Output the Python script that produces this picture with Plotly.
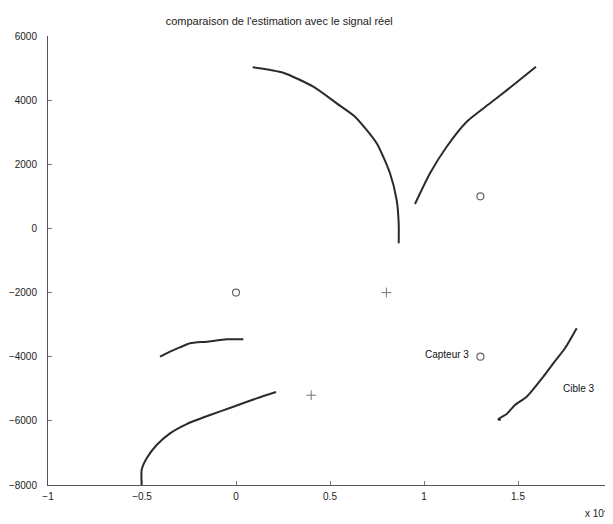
import plotly.graph_objects as go

# Trajectories (estimations)
arc_x = [890, 2516, 4112, 5356, 6330, 7484, 8191, 8546, 8654, 8654]
arc_y = [5024, 4856, 4419, 3901, 3484, 2654, 1719, 886, 159, -464]

rise_x = [9521, 10319, 11206, 12271, 13511, 14751, 15957]
rise_y = [761, 1719, 2548, 3328, 3901, 4472, 5043]

cible3_x = [14080, 13950, 14399, 14840, 15463, 16346, 16878, 17500, 18122]
cible3_y = [-5974, -5950, -5787, -5506, -5247, -4623, -4206, -3738, -3114]

mid_x = [-4043, -3511, -2979, -2447, -1559, -495, 390]
mid_y = [-4000, -3844, -3709, -3582, -3531, -3458, -3458]

low_x = [2128, 1099, -142, -1383, -2624, -3511, -4220, -4752, -5018, -5018]
low_y = [-5101, -5298, -5559, -5818, -6099, -6389, -6753, -7168, -7533, -8000]

# Sensors (circles) and targets (plus)
capteur_x = [0, 13000, 13000]
capteur_y = [-2000, 1000, -4000]
plus_x = [8000, 4000]
plus_y = [-2000, -5200]

x_tickvals = [-10000, -5000, 0, 5000, 10000, 15000, 20000]
x_ticktext = ["\u22121", "\u22120.5", "0", "0.5", "1", "1.5", "2"]
y_tickvals = [6000, 4000, 2000, 0, -2000, -4000, -6000, -8000]
y_ticktext = ["6000", "4000", "2000", "0", "\u22122000", "\u22124000", "\u22126000", "\u22128000"]

line_style = dict(color="#2b2b2b", width=2, shape="spline", smoothing=0.6)

fig = go.Figure()
for xs, ys in [(arc_x, arc_y), (rise_x, rise_y), (cible3_x, cible3_y),
               (mid_x, mid_y), (low_x, low_y)]:
    fig.add_trace(go.Scatter(x=xs, y=ys, mode="lines", line=line_style,
                             showlegend=False, hoverinfo="skip"))

fig.add_trace(go.Scatter(x=capteur_x, y=capteur_y, mode="markers",
                         marker=dict(symbol="circle-open", size=7,
                                     color="#666666", line=dict(width=1.2)),
                         showlegend=False))
fig.add_trace(go.Scatter(x=plus_x, y=plus_y, mode="markers",
                         marker=dict(symbol="cross-thin-open", size=7,
                                     color="#777777", line=dict(width=1)),
                         showlegend=False))

FAM = "Liberation Sans, Arial, sans-serif"
font = dict(family=FAM, size=10, color="#222222")

# page body has an 8px margin: figure is laid out so the screenshot matches
W, H = 613, 524
fig.update_layout(
    width=W, height=H,
    margin=dict(l=40, r=9, t=28, b=47),
    paper_bgcolor="white", plot_bgcolor="white",
    font=font,
    title=dict(text="comparaison de l'estimation avec le signal réel",
               x=0.41, xref="paper", xanchor="center",
               y=1 - 13 / H, yref="container", yanchor="middle",
               font=dict(family=FAM, size=11, color="#222222")),
    xaxis=dict(range=[-10000, 20000], tickvals=x_tickvals, ticktext=x_ticktext,
               showgrid=False, zeroline=False, showline=True, linecolor="#555555",
               linewidth=1, ticks="inside", ticklen=4, tickcolor="#777777",
               mirror=False, ticklabelstandoff=2, automargin=False,
               ticklabeloverflow="allow"),
    yaxis=dict(range=[-8000, 6000], tickvals=y_tickvals, ticktext=y_ticktext,
               showgrid=False, zeroline=False, showline=True, linecolor="#555555",
               linewidth=1, ticks="inside", ticklen=4, tickcolor="#777777",
               mirror=False, ticklabelstandoff=8, automargin=False),
    annotations=[
        dict(x=11206, y=-3946, xref="x", yref="y", text="Capteur 3",
             showarrow=False, font=dict(family=FAM, size=10, color="#111111")),
        dict(x=18229, y=-4990, xref="x", yref="y", text="Cible 3",
             showarrow=False, font=dict(family=FAM, size=10, color="#111111")),
        dict(x=0.9965, y=-0.062, xref="paper", yref="paper", text="x 10<sup>4</sup>",
             xanchor="right", yanchor="middle", showarrow=False,
             font=dict(family=FAM, size=10, color="#222222")),
    ],
)

fig.write_html("out.html")
